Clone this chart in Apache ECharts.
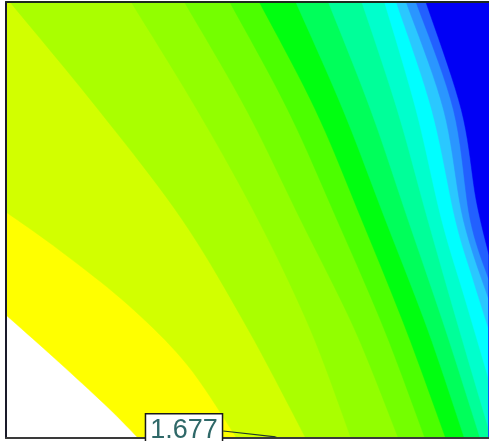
<!DOCTYPE html>
<html>
<head>
<meta charset="utf-8">
<script src="https://cdn.jsdelivr.net/npm/echarts@6/dist/echarts.min.js"></script>
<style>
  html, body { margin: 0; padding: 0; background: #fff; }
  #chart { width: 489px; height: 441px; }
</style>
</head>
<body>
<div id="chart"></div>
<script>
// plot extent (data units, y measured downward from the top edge)
const xRange = [6, 496]
const yRange = [2, 438]

// contour level fills, lowest level first (band 0 is the empty white area)
const bandColors = [
  '#ffffff', '#ffff00', '#d2ff00', '#aaff00', '#92ff00', '#74ff00',
  '#4cff00', '#00ff10', '#00ff5a', '#00ff99', '#00ffcc', '#00ffff',
  '#2ac8ff', '#2a96ff', '#2260ff', '#0000f5'
]

// contour boundaries, boundary k separates band k and k+1
const contour01 = [[6, 315], [55, 358], [110, 408], [140, 438]]
const contour02 = [[6, 212], [60, 250], [130, 305], [190, 365], [240, 438]]
const contour03 = [[10, 2], [100, 110], [185, 220], [252, 330], [310, 438]]
const contour04 = [[133, 2], [200, 110], [262, 220], [315, 330], [356, 438]]
const contour05 = [[187, 2], [250, 110], [305, 220], [360, 330], [404, 438]]
const contour06 = [[233, 2], [292, 110], [342, 220], [390, 330], [431, 438]]
const contour07 = [[263, 2], [320, 110], [367, 220], [412, 330], [452, 438]]
const contour08 = [[300, 2], [348, 110], [391, 220], [434, 330], [471, 438]]
const contour09 = [[333, 2], [376, 110], [414, 220], [452, 330], [487, 438], [496, 465]]
const contour10 = [[367, 2], [403, 110], [434, 220], [466, 330], [496, 430]]
const contour11 = [[390, 2], [422, 110], [448, 220], [472, 300], [496, 380]]
const contour12 = [[402, 2], [438, 110], [462, 220], [480, 280], [496, 330]]
const contour13 = [[412, 2], [450, 110], [470, 220], [496, 300]]
const contour14 = [[422, 2], [460, 110], [477, 220], [496, 280]]
const contour15 = [[432, 2], [468, 110], [483, 200], [496, 255]]

const contours = [
  contour01, contour02, contour03, contour04, contour05,
  contour06, contour07, contour08, contour09, contour10,
  contour11, contour12, contour13, contour14, contour15
]

// probe annotation
const probePoint = [280, 437]
const probeValue = '1.677'

const chart = echarts.init(document.getElementById('chart'))

// Catmull-Rom through the picked points so the level lines read as curves
function smoothPath(pts) {
  const out = [pts[0]]
  for (let i = 0; i < pts.length - 1; i++) {
    const p0 = pts[Math.max(i - 1, 0)]
    const p1 = pts[i]
    const p2 = pts[i + 1]
    const p3 = pts[Math.min(i + 2, pts.length - 1)]
    for (let s = 1; s <= 10; s++) {
      const t = s / 10
      const t2 = t * t
      const t3 = t2 * t
      out.push([0, 1].map((d) => 0.5 * (
        2 * p1[d] +
        (-p0[d] + p2[d]) * t +
        (2 * p0[d] - 5 * p1[d] + 4 * p2[d] - p3[d]) * t2 +
        (-p0[d] + 3 * p1[d] - 3 * p2[d] + p3[d]) * t3
      )))
    }
  }
  return out
}

function renderBand(params, api) {
  const k = api.value(0)
  const line = smoothPath(contours[k].map((p) => api.coord(p)))
  // close the region on the high side through the bottom-right, top-right and top-left corners
  const corners = [
    [xRange[1], yRange[1]],
    [xRange[1], yRange[0]],
    [xRange[0], yRange[0]]
  ].map((p) => api.coord(p))
  return {
    type: 'polygon',
    shape: { points: line.concat(corners) },
    style: { fill: bandColors[k + 1], stroke: bandColors[k + 1], lineWidth: 0.5 }
  }
}

chart.setOption({
  animation: false,
  grid: { left: 6, top: 2, width: 490, height: 436, show: true, backgroundColor: '#fff', borderWidth: 0 },
  xAxis: [
    {
      type: 'value', min: xRange[0], max: xRange[1], position: 'bottom', z: 10,
      axisLine: { show: true, lineStyle: { color: '#3a3a3a', width: 2 } },
      axisTick: { show: false }, axisLabel: { show: false }, splitLine: { show: false }
    },
    {
      type: 'value', min: xRange[0], max: xRange[1], position: 'top', z: 10,
      axisLine: { show: true, lineStyle: { color: '#1d2a1d', width: 2 } },
      axisTick: { show: false }, axisLabel: { show: false }, splitLine: { show: false }
    }
  ],
  yAxis: {
    type: 'value', min: yRange[0], max: yRange[1], inverse: true, z: 10,
    axisLine: { show: true, onZero: false, lineStyle: { color: '#1a1a2a', width: 2 } },
    axisTick: { show: false }, axisLabel: { show: false }, splitLine: { show: false }
  },
  series: [
    {
      type: 'custom',
      renderItem: renderBand,
      clip: true,
      silent: true,
      data: contours.map((c, i) => [i])
    },
    {
      type: 'scatter',
      symbolSize: 1,
      itemStyle: { color: '#333', opacity: 1 },
      data: [probePoint],
      z: 20,
      silent: true,
      label: {
        show: true,
        formatter: probeValue,
        fontFamily: 'Liberation Sans, Arial, sans-serif',
        fontSize: 27,
        lineHeight: 30,
        color: '#2f6868',
        backgroundColor: '#ffffff',
        opacity: 1,
        borderColor: '#1a1a1a',
        borderWidth: 1.5,
        padding: [3, 4, 0, 4]
      },
      labelLayout: { x: 184, y: 431, align: 'center', verticalAlign: 'middle' },
      labelLine: { show: true, lineStyle: { color: '#1f3a2a', width: 1.2, opacity: 1 } }
    }
  ]
})
</script>
</body>
</html>
